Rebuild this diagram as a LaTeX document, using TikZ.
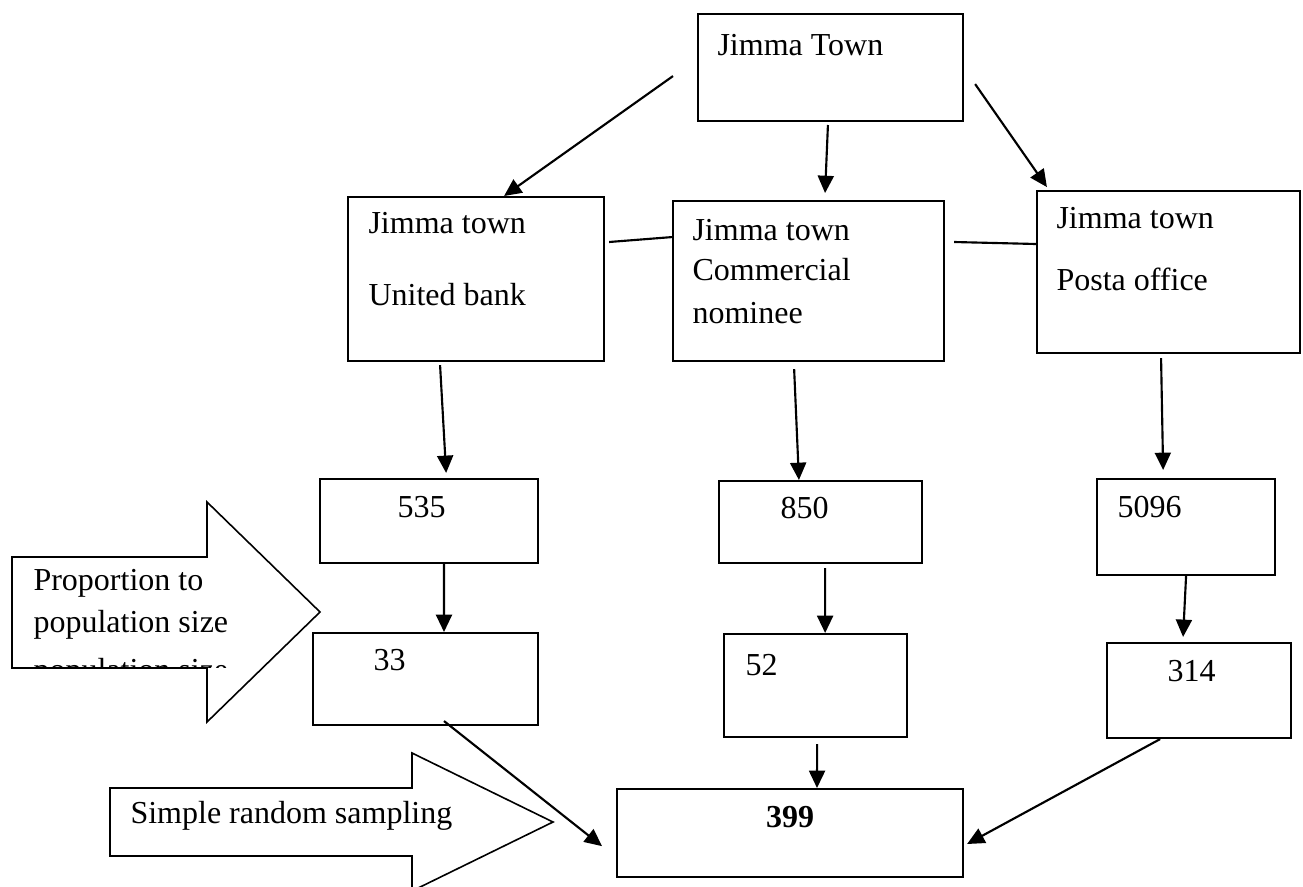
\documentclass[tikz,border=0pt]{standalone}
\usepackage{fontspec}
\setmainfont{Liberation Serif}
\usetikzlibrary{arrows.meta}
\tikzset{
    box/.style={rectangle, draw=black, line width=0.8pt, anchor=north west, inner sep=0pt},
    txt/.style={inner sep=0pt, anchor=base west},
    arrow/.style={line width=0.8pt, -{Triangle[length=6.5pt,width=6pt]}},
    link/.style={line width=0.8pt},
    bigarrow/.style={draw=black, line width=0.6pt, fill=white},
}
\begin{document}
\begin{tikzpicture}[x=0.375pt, y=-0.375pt,
      every node/.style={font=\fontsize{12}{14}\selectfont}
    ]
    \clip (0,0) rectangle (1303,886);
    % block arrows on the left
    \draw[bigarrow] (12,557) -- (207,557) -- (207,502) -- (320,612) -- (207,722) -- (207,668) -- (12,668) -- cycle;
    \draw[bigarrow] (110,788) -- (412,788) -- (412,753) -- (553,822) -- (412,891) -- (412,856) -- (110,856) -- cycle;
    \node[txt] (prop1) at (33,590) {Proportion to};
    \node[txt] (prop2) at (33,632) {population size};
    \begin{scope}
        \clip (12,557) rectangle (330,667);
        \node[txt] (prop3) at (33,680) {population size};
    \end{scope}
    \node[txt] (srs) at (130,823) {Simple random sampling};

    % boxes
    \node[box, minimum width=99.4pt, minimum height=40.1pt] (town) at (697,13) {};
    \node[box, minimum width=96pt, minimum height=61.5pt] (ub) at (347,196) {};
    \node[box, minimum width=101.6pt, minimum height=60pt] (cn) at (672,200) {};
    \node[box, minimum width=98.6pt, minimum height=60.75pt] (po) at (1036,190) {};
    \node[box, minimum width=81.75pt, minimum height=31.5pt] (n535) at (319,478) {};
    \node[box, minimum width=76.1pt, minimum height=30.75pt] (n850) at (718,480) {};
    \node[box, minimum width=66.75pt, minimum height=36pt] (n5096) at (1096,478) {};
    \node[box, minimum width=84.4pt, minimum height=34.5pt] (n33) at (312,632) {};
    \node[box, minimum width=68.6pt, minimum height=38.6pt] (n52) at (723,633) {};
    \node[box, minimum width=69pt, minimum height=35.6pt] (n314) at (1106,642) {};
    \node[box, minimum width=129.75pt, minimum height=33pt] (n399) at (616,788) {};

    % texts
    \node[txt] (towntext) at (717,55) {Jimma Town};
    \node[txt] (ub1) at (368,233) {Jimma town};
    \node[txt] (ub2) at (368,305) {United bank};
    \node[txt] (cn1) at (692,240) {Jimma town};
    \node[txt] (cn2) at (692,280) {Commercial};
    \node[txt] (cn3) at (692,323) {nominee};
    \node[txt] (po1) at (1056,228) {Jimma town};
    \node[txt] (po2) at (1056,290) {Posta office};
    \node[txt] (t535) at (397,517) {535};
    \node[txt] (t850) at (780,518) {850};
    \node[txt] (t5096) at (1117,517) {5096};
    \node[txt] (t33) at (373,670) {33};
    \node[txt] (t52) at (745,675) {52};
    \node[txt] (t314) at (1167,681) {314};
    \node[inner sep=0pt, anchor=base] (t399) at (790,827) {\textbf{399}};

    % connectors
    \draw[arrow] ([xshift=-9pt,yshift=-3.2pt]town.west) -- ([xshift=10.5pt]ub.north);
    \draw[arrow] ([xshift=-1pt,yshift=-1.1pt]town.south) -- ([xshift=6.2pt,yshift=2.6pt]cn.north);
    \draw[arrow] ([xshift=4.1pt,yshift=-6.2pt]town.east) -- ([xshift=4.1pt,yshift=1.1pt]po.north west);
    \draw[link] ([xshift=1.5pt,yshift=-17.25pt]ub.north east) -- ([yshift=-13.9pt]cn.north west);
    \draw[link] ([xshift=3.4pt,yshift=-15.75pt]cn.north east) -- ([yshift=-20.25pt]po.north west);
    \draw[arrow] ([xshift=-13.5pt,yshift=-1.1pt]ub.south) -- ([xshift=6.4pt,yshift=1.9pt]n535.north);
    \draw[arrow] ([xshift=-5.4pt,yshift=-2.6pt]cn.south) -- ([xshift=-8.1pt]n850.north);
    \draw[arrow] ([xshift=-2.8pt,yshift=-1.5pt]po.south) -- ([xshift=-8.6pt,yshift=3pt]n5096.north);
    \draw[arrow] ([xshift=5.6pt]n535.south) -- ([xshift=6.9pt]n33.north);
    \draw[arrow] ([xshift=1.7pt,yshift=-1.5pt]n850.south) -- ([xshift=3.6pt]n52.north);
    \draw[arrow] (n5096.south) -- ([xshift=-6pt,yshift=1.9pt]n314.north);
    \draw[arrow] ([xshift=6.9pt,yshift=1.9pt]n33.south) -- ([xshift=-5.25pt,yshift=-4.9pt]n399.west);
    \draw[arrow] ([xshift=0.6pt,yshift=-2.25pt]n52.south) -- ([xshift=10.1pt]n399.north);
    \draw[arrow] ([xshift=-14.6pt]n314.south) -- ([xshift=1.1pt,yshift=-4.1pt]n399.east);
\end{tikzpicture}
\end{document}
